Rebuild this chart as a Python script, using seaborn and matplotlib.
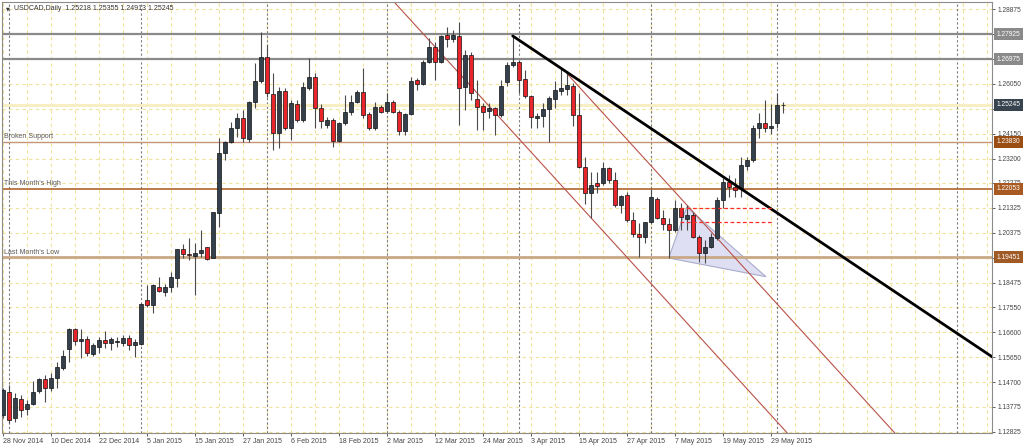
import numpy as np
import pandas as pd
import matplotlib
matplotlib.use("Agg")
import matplotlib.pyplot as plt
import matplotlib.transforms as mtransforms
from matplotlib.patches import Polygon
import seaborn as sns

# ---------------- DATA (USDCAD daily, 28 Nov 2014 .. 2 Jun 2015) ----------------
opens = [1.1346, 1.1432, 1.1333, 1.1407, 1.1368, 1.1387, 1.1437, 1.1482, 1.1447, 1.1485,
         1.1523, 1.1597, 1.1673, 1.1627, 1.1635, 1.1577, 1.1602, 1.1631, 1.1618, 1.1624,
         1.1618, 1.1637, 1.1612, 1.1614, 1.1783, 1.1764, 1.1833, 1.1814, 1.1830, 1.1865,
         1.1977, 1.1958, 1.1949, 1.1960, 1.1983, 1.1941, 1.2112, 1.2340, 1.2382, 1.2435,
         1.2476, 1.2395, 1.2536, 1.2616, 1.2705, 1.2564, 1.2416, 1.2577, 1.2435, 1.2527,
         1.2467, 1.2587, 1.2631, 1.2511, 1.2448, 1.2467, 1.2387, 1.2454, 1.2496, 1.2534,
         1.2572, 1.2489, 1.2435, 1.2515, 1.2501, 1.2536, 1.2496, 1.2425, 1.2489, 1.2619,
         1.2603, 1.2688, 1.2743, 1.2688, 1.2790, 1.2775, 1.2787, 1.2591, 1.2714, 1.2547,
         1.2520, 1.2501, 1.2514, 1.2486, 1.2612, 1.2676, 1.2688, 1.2623, 1.2558, 1.2473,
         1.2482, 1.2509, 1.2547, 1.2578, 1.2583, 1.2596, 1.2486, 1.2289, 1.2191, 1.2226,
         1.2226, 1.2283, 1.2239, 1.2144, 1.2182, 1.2087, 1.2034, 1.2023, 1.2078, 1.2167,
         1.2096, 1.2072, 1.2049, 1.2131, 1.2091, 1.2106, 1.2023, 1.1960, 1.1983, 1.2017,
         1.2163, 1.2232, 1.2211, 1.2207, 1.2292, 1.2315, 1.2435, 1.2454, 1.2435, 1.2454,
         1.25218]
highs = [1.1448, 1.1460, 1.1429, 1.1422, 1.1403, 1.1475, 1.1485, 1.1498, 1.1504, 1.1548,
         1.1593, 1.1675, 1.1675, 1.1673, 1.1647, 1.1618, 1.1643, 1.1665, 1.1643, 1.1640,
         1.1650, 1.1650, 1.1635, 1.1770, 1.1840, 1.1842, 1.1871, 1.1842, 1.1888, 1.1977,
         1.1996, 1.2017, 1.1998, 1.2049, 1.1985, 1.2118, 1.2397, 1.2387, 1.2458, 1.2492,
         1.2505, 1.2539, 1.2682, 1.2802, 1.2752, 1.2644, 1.2593, 1.2587, 1.2543, 1.2543,
         1.2612, 1.2701, 1.2644, 1.2527, 1.2479, 1.2473, 1.2460, 1.2562, 1.2562, 1.2581,
         1.2666, 1.2498, 1.2536, 1.2524, 1.2568, 1.2543, 1.2505, 1.2492, 1.2631, 1.2625,
         1.2695, 1.2777, 1.2764, 1.2790, 1.2821, 1.2809, 1.2839, 1.2733, 1.2726, 1.2619,
         1.2530, 1.2530, 1.2517, 1.2619, 1.2688, 1.2786, 1.2695, 1.2657, 1.2562, 1.2492,
         1.2530, 1.2558, 1.2615, 1.2659, 1.2644, 1.2606, 1.2568, 1.2327, 1.2270, 1.2270,
         1.2308, 1.2289, 1.2270, 1.2182, 1.2194, 1.2118, 1.2074, 1.2080, 1.2205, 1.2175,
         1.2125, 1.2096, 1.2163, 1.2150, 1.2144, 1.2118, 1.2030, 1.2011, 1.2036, 1.2175,
         1.2245, 1.2258, 1.2245, 1.2327, 1.2327, 1.2448, 1.2492, 1.2541, 1.2528, 1.2570,
         1.25355]
lows = [1.1334, 1.1315, 1.1320, 1.1339, 1.1346, 1.1384, 1.1428, 1.1396, 1.1437, 1.1447,
        1.1517, 1.1548, 1.1612, 1.1561, 1.1571, 1.1571, 1.1580, 1.1599, 1.1593, 1.1605,
        1.1609, 1.1593, 1.1567, 1.1612, 1.1754, 1.1732, 1.1814, 1.1799, 1.1814, 1.1833,
        1.1941, 1.1935, 1.1802, 1.1947, 1.1935, 1.1941, 1.2061, 1.2315, 1.2378, 1.2403,
        1.2382, 1.2384, 1.2514, 1.2606, 1.2555, 1.2353, 1.2359, 1.2429, 1.2391, 1.2460,
        1.2460, 1.2581, 1.2435, 1.2435, 1.2435, 1.2365, 1.2384, 1.2448, 1.2486, 1.2530,
        1.2473, 1.2429, 1.2429, 1.2492, 1.2492, 1.2492, 1.2410, 1.2410, 1.2486, 1.2581,
        1.2600, 1.2682, 1.2619, 1.2682, 1.2745, 1.2764, 1.2448, 1.2505, 1.2543, 1.2429,
        1.2429, 1.2473, 1.2410, 1.2479, 1.2596, 1.2669, 1.2568, 1.2549, 1.2435, 1.2435,
        1.2441, 1.2384, 1.2511, 1.2562, 1.2562, 1.2444, 1.2283, 1.2148, 1.2093, 1.2188,
        1.2220, 1.2226, 1.2137, 1.2112, 1.2080, 1.2023, 1.1946, 1.1998, 1.2074, 1.2090,
        1.2049, 1.1942, 1.2041, 1.2049, 1.2049, 1.2018, 1.1928, 1.1922, 1.1979, 1.2011,
        1.2131, 1.2175, 1.2175, 1.2175, 1.2277, 1.2308, 1.2397, 1.2422, 1.2412, 1.2435,
        1.24913]
closes = [1.1441, 1.1327, 1.1409, 1.1365, 1.1388, 1.1434, 1.1483, 1.1447, 1.1485, 1.1527,
          1.1571, 1.1673, 1.1627, 1.1635, 1.1580, 1.1612, 1.1631, 1.1618, 1.1635, 1.1628,
          1.1637, 1.1612, 1.1622, 1.1766, 1.1764, 1.1840, 1.1817, 1.1830, 1.1871, 1.1977,
          1.1958, 1.1954, 1.1961, 1.1973, 1.1939, 1.2116, 1.2343, 1.2384, 1.2435, 1.2473,
          1.2397, 1.2536, 1.2616, 1.2705, 1.2568, 1.2416, 1.2577, 1.2435, 1.2530, 1.2467,
          1.2593, 1.2631, 1.2511, 1.2463, 1.2467, 1.2387, 1.2454, 1.2496, 1.2534, 1.2572,
          1.2486, 1.2435, 1.2517, 1.2498, 1.2536, 1.2498, 1.2425, 1.2489, 1.2615, 1.2603,
          1.2688, 1.2743, 1.2688, 1.2787, 1.2775, 1.2790, 1.2590, 1.2714, 1.2568, 1.2517,
          1.2498, 1.2514, 1.2486, 1.2596, 1.2676, 1.2688, 1.2619, 1.2559, 1.2477, 1.2482,
          1.2509, 1.2549, 1.2581, 1.2587, 1.2600, 1.2486, 1.2289, 1.2191, 1.2220, 1.2216,
          1.2283, 1.2239, 1.2144, 1.2178, 1.2087, 1.2034, 1.2023, 1.2078, 1.2173, 1.2096,
          1.2072, 1.2049, 1.2131, 1.2099, 1.2106, 1.2023, 1.1960, 1.1983, 1.2023, 1.2163,
          1.2232, 1.2211, 1.2201, 1.2296, 1.2315, 1.2435, 1.2454, 1.2435, 1.2445, 1.2524,
          1.25245]

date_labels = ["28 Nov 2014", "10 Dec 2014", "22 Dec 2014", "5 Jan 2015", "15 Jan 2015",
               "27 Jan 2015", "6 Feb 2015", "18 Feb 2015", "2 Mar 2015", "12 Mar 2015",
               "24 Mar 2015", "3 Apr 2015", "15 Apr 2015", "27 Apr 2015", "7 May 2015",
               "19 May 2015", "29 May 2015"]
date_bars = list(range(0, 129, 8))
month_bars = [1, 23, 44, 64, 86, 108, 129, 159]

price_ticks = [1.28875, 1.27925, 1.26975, 1.26050, 1.25100, 1.24150, 1.23200, 1.22275,
               1.21325, 1.20375, 1.19425, 1.18475, 1.17550, 1.16600, 1.15650, 1.14700,
               1.13775, 1.12825]

# horizontal levels: (price, label, line colour, width, box colour)
level_prices = [1.27925, 1.26975, 1.23830, 1.22053, 1.19451]
level_names = ["", "", "Broken Support", "This Month's High", "Last Month's Low"]
level_colors = ["#8a8a8a", "#8a8a8a", "#c9957a", "#b0652e", "#c9a886"]
level_widths = [1.6, 1.6, 1.0, 1.2, 2.0]
level_boxes = ["#8a8a8a", "#8a8a8a", "#9a4e14", "#a85a22", "#a05a26"]
bid_price = 1.25245

# drawn objects (bar index, price)
trend_bars = [85, 165]
trend_prices = [1.2786, 1.1565]
channel_a_bars = [94, 150]
channel_a_prices = [1.2644, 1.1244]
channel_b_bars = [64, 132]
channel_b_prices = [1.2946, 1.1246]
triangle_bars = [111, 114, 127.2]
triangle_prices = [1.1942, 1.2136, 1.1871]
dash_prices = [1.2131, 1.2078]
dash_span = [112.9, 128.2]

# ---------------- FRAME ----------------
df = pd.DataFrame({"open": opens, "high": highs, "low": lows, "close": closes})
df["bar"] = np.arange(len(df))
df["up"] = df["close"] >= df["open"]

sns.set_theme(style="white")
plt.rcParams["font.family"] = ["Liberation Sans", "DejaVu Sans"]

W, H = 1024, 447
fig = plt.figure(figsize=(W / 100, H / 100), dpi=100)
ax = fig.add_axes([1.7 / W, 14 / H, 990 / W, 431 / H])
ax.set_xlim(-0.17, 164.83)
ax.set_ylim(1.1277, 1.2915)
ax.set_facecolor("white")

grid_col = "#f0e29a"
for t in price_ticks:
    ax.axhline(t, color=grid_col, lw=0.8, ls=(0, (3, 3)), zorder=0)
for b in range(0, 166, 4):
    ax.axvline(b, color=grid_col, lw=0.8, ls=(0, (3, 3)), zorder=0)
for b in month_bars:
    ax.axvline(b, color="#7a7a7a", lw=0.8, ls=(0, (2, 2)), zorder=0.5)

# bid line
ax.axhline(bid_price, color="#f7eec4", lw=2.2, zorder=0.6)

# triangle
tri = Polygon(np.column_stack([triangle_bars, triangle_prices]), closed=True,
              facecolor="#dedff3", edgecolor="#a9abc9", lw=0.8, zorder=1)
ax.add_patch(tri)

# levels
for p, name, c, w in zip(level_prices, level_names, level_colors, level_widths):
    ax.axhline(p, color=c, lw=w, zorder=1.5)
    if name:
        ax.annotate(name, (0.2, p), xytext=(0, 1.2), textcoords="offset points",
                    fontsize=5, color="#5a5a5a", va="bottom", ha="left")

# channel + trend lines
sns.lineplot(x=channel_a_bars, y=channel_a_prices, color="#b8524a", lw=0.8, ax=ax,
             legend=False, zorder=2)
sns.lineplot(x=channel_b_bars, y=channel_b_prices, color="#b8524a", lw=0.8, ax=ax,
             legend=False, zorder=2)

# ---------------- CANDLES ----------------
ax.vlines(df["bar"], df["low"], df["high"], color="#4a4a4a", lw=0.8, zorder=3)
body_low = df[["open", "close"]].min(axis=1)
body_h = (df["close"] - df["open"]).abs().clip(lower=0.00012)
body_col = np.where(df["up"], "#34404b", "#e8252a")
ax.bar(df["bar"], body_h, bottom=body_low, width=0.62, color=body_col,
       edgecolor="#111111", linewidth=0.5, zorder=4)

sns.lineplot(x=trend_bars, y=trend_prices, color="black", lw=2.0, ax=ax,
             legend=False, zorder=5)
ax.hlines(dash_prices, dash_span[0], dash_span[1], colors="#ff2a2a", lw=0.9,
          linestyles=(0, (3, 2)), zorder=5)

# ---------------- AXES ----------------
ax.yaxis.tick_right()
ax.set_yticks(price_ticks)
ax.set_yticklabels([f"{t:.5f}" for t in price_ticks])
ax.set_xticks(date_bars)
ax.set_xticklabels(date_labels, ha="left")
ax.tick_params(axis="y", labelsize=4.8, length=2, pad=2.5, colors="#444444",
               width=0.6, right=True, left=False)
ax.tick_params(axis="x", labelsize=5, length=2, pad=1.5, colors="#444444",
               width=0.6, bottom=True)
for lab in ax.get_xticklabels():
    lab.set_x(lab.get_position()[0])
ax.set_xlabel("")
ax.set_ylabel("")
for s in ax.spines.values():
    s.set_color("#8c8c8c")
    s.set_linewidth(0.8)

# price boxes on the right scale
box_tr = mtransforms.blended_transform_factory(ax.transAxes, ax.transData)
box_off = mtransforms.ScaledTranslation(5 / 100, 0, fig.dpi_scale_trans)
for p, c in zip(level_prices + [bid_price], level_boxes + ["#37434e"]):
    ax.text(1.0, p, f"{p:.5f}", transform=box_tr + box_off, fontsize=4.8,
            color="white", va="center", ha="left", clip_on=False, zorder=10,
            bbox=dict(boxstyle="square,pad=0.35", fc=c, ec="none"))

# header
fig.text(6 / W, 1 - 8.5 / H, "\u25bc", fontsize=3.5, color="#333333", va="center",
         family=["DejaVu Sans"])
fig.text(14 / W, 1 - 8.5 / H, "USDCAD,Daily  1.25218 1.25355 1.24913 1.25245",
         fontsize=5, color="#333333", va="center")

fig.savefig("out.png", dpi=100)
